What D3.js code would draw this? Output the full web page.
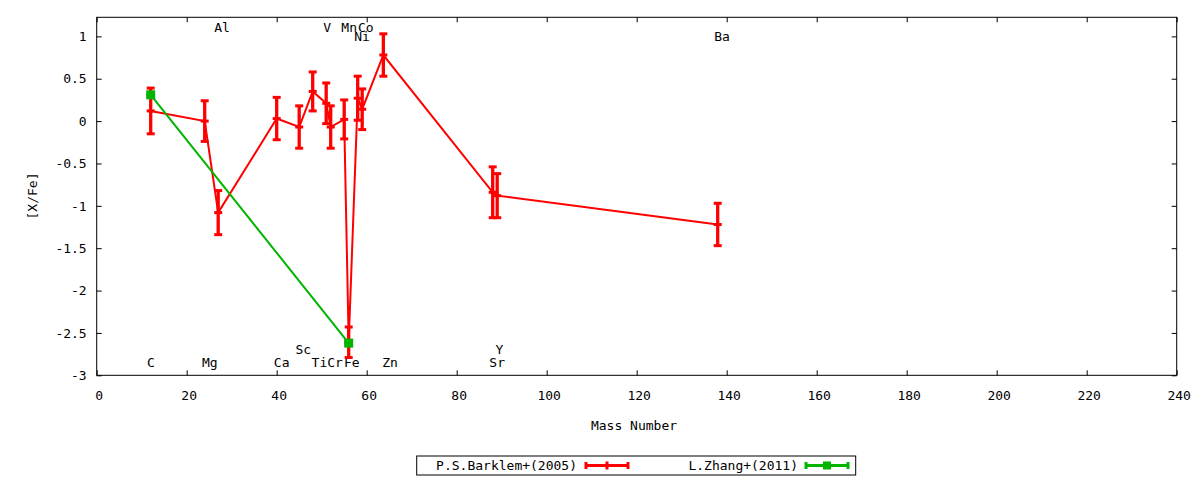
<!DOCTYPE html>
<html>
<head>
<meta charset="utf-8">
<script src="https://cdn.jsdelivr.net/npm/d3@7"></script>
<style>
  html, body { margin: 0; padding: 0; background: #fff; }
  svg { display: block; }
  text { font-family: "DejaVu Sans Mono", monospace; font-size: 13px; fill: #000; }
</style>
</head>
<body>
<svg id="chart" width="1200" height="480"></svg>
<script>
// ---- data ----
const barklemElements = ["C","Mg","Al","Ca","Sc","Ti","V","Cr","Mn","Fe","Ni","Co","Zn","Sr","Y","Ba"];
const barklemMass     = [12, 24, 27, 40, 45, 48, 51, 52, 55, 56, 58, 59, 63.7, 88, 89, 138];
const barklemValue    = [0.12, 0.00, -1.08, 0.03, -0.07, 0.35, 0.21, -0.07, 0.02, -2.61, 0.27, 0.14, 0.78, -0.84, -0.88, -1.22];
const barklemError    = [0.27, 0.24, 0.26, 0.25, 0.25, 0.23, 0.24, 0.25, 0.23, 0.18, 0.26, 0.24, 0.25, 0.30, 0.26, 0.25];

const zhangElements = ["C","Fe"];
const zhangMass     = [12, 56];
const zhangValue    = [0.31, -2.62];
const zhangError    = [0, 0];

const labelNames = ["C","Mg","Ca","Sc","Ti","Cr","Fe","Zn","Y","Sr","Al","V","Mn","Co","Ni","Ba"];
const labelMass  = [12.05, 25.15, 41.1, 45.9, 49.5, 52.95, 56.7, 65.2, 89.5, 89.0, 27.85, 51.2, 56.1, 59.8, 58.95, 138.95];
const labelLevel = [-2.85, -2.85, -2.85, -2.7, -2.85, -2.85, -2.85, -2.85, -2.7, -2.85, 1.1, 1.1, 1.1, 1.1, 1.0, 1.0];

const xTicks = [0,20,40,60,80,100,120,140,160,180,200,220,240];
const yTicks = [-3,-2.5,-2,-1.5,-1,-0.5,0,0.5,1];
const seriesNames = ["P.S.Barklem+(2005)", "L.Zhang+(2011)"];

// ---- layout ----
const svg = d3.select("#chart");
const pLeft = 96.7, pRight = 1176.7, pTop = 17.3, pBottom = 375.3;
const x = d3.scaleLinear().domain([0, 240]).range([pLeft, pRight]);
const y = d3.scaleLinear().domain([-3, 1.225]).range([pBottom, pTop]);
const RED = "#ff0000", GREEN = "#00b400";
const tickLen = 5;

// frame
svg.append("rect").attr("x", pLeft).attr("y", pTop).attr("width", pRight-pLeft).attr("height", pBottom-pTop)
  .attr("fill", "none").attr("stroke", "#000").attr("stroke-width", 1);

// axes using d3 axis (inward ticks)
const fmt = d => String(d);
const xAxisB = d3.axisBottom(x).tickValues(xTicks).tickSize(-tickLen).tickFormat(fmt).tickPadding(15);
const xAxisT = d3.axisTop(x).tickValues(xTicks).tickSize(-tickLen).tickFormat("");
const yAxisL = d3.axisLeft(y).tickValues(yTicks).tickSize(-tickLen).tickFormat(fmt).tickPadding(10);
const yAxisR = d3.axisRight(y).tickValues(yTicks).tickSize(-tickLen).tickFormat("");

function styleAxis(g) {
  g.select(".domain").remove();
  g.selectAll(".tick line").attr("stroke", "#000").attr("stroke-width", 1);
  g.selectAll(".tick text").style("font-family", "DejaVu Sans Mono, monospace").style("font-size", "13px").attr("fill", "#000");
}
svg.append("g").attr("transform", `translate(0,${pBottom})`).call(xAxisB).call(styleAxis)
  .selectAll(".tick text").attr("dx", 2);
svg.append("g").attr("transform", `translate(0,${pTop})`).call(xAxisT).call(styleAxis);
svg.append("g").attr("transform", `translate(${pLeft},0)`).call(yAxisL).call(styleAxis);
svg.append("g").attr("transform", `translate(${pRight},0)`).call(yAxisR).call(styleAxis);

// axis titles
svg.append("text").attr("x", 634).attr("y", 430).attr("text-anchor", "middle").text("Mass Number");
svg.append("text").attr("transform", "translate(37,196) rotate(-90)").attr("text-anchor", "middle").text("[X/Fe]");

// element labels
const labels = labelNames.map((n, i) => ({n, m: labelMass[i], v: labelLevel[i]}));
svg.append("g").selectAll("text").data(labels).join("text")
  .attr("x", d => x(d.m)).attr("y", d => y(d.v)).attr("dy", "0.35em")
  .attr("text-anchor", "middle").text(d => d.n);

// series
const barklem = barklemElements.map((e, i) => ({e, m: barklemMass[i], v: barklemValue[i], err: barklemError[i]}));
const zhang = zhangElements.map((e, i) => ({e, m: zhangMass[i], v: zhangValue[i], err: zhangError[i]}));
const line = d3.line().x(d => x(d.m)).y(d => y(d.v));
const capW = 4;

function drawSeries(data, color, marker) {
  const g = svg.append("g");
  g.append("path").datum(data).attr("d", line).attr("fill", "none").attr("stroke", color).attr("stroke-width", 2);
  const eb = g.selectAll("g.eb").data(data).join("g");
  eb.append("line").attr("x1", d => x(d.m)).attr("x2", d => x(d.m))
    .attr("y1", d => y(d.v - d.err)).attr("y2", d => y(d.v + d.err))
    .attr("stroke", color).attr("stroke-width", 3.3);
  [-1, 1].forEach(s => {
    eb.append("line").attr("x1", d => x(d.m) - capW).attr("x2", d => x(d.m) + capW)
      .attr("y1", d => y(d.v + s*d.err)).attr("y2", d => y(d.v + s*d.err))
      .attr("stroke", color).attr("stroke-width", 3);
  });
  if (marker === "plus") {
    eb.append("line").attr("x1", d => x(d.m) - capW).attr("x2", d => x(d.m) + capW)
      .attr("y1", d => y(d.v)).attr("y2", d => y(d.v)).attr("stroke", color).attr("stroke-width", 3);
  } else {
    eb.append("rect").attr("x", d => x(d.m) - 4.5).attr("y", d => y(d.v) - 4.5)
      .attr("width", 9).attr("height", 9).attr("fill", color);
  }
}
drawSeries(barklem, RED, "plus");
drawSeries(zhang, GREEN, "square");

// legend
const lg = svg.append("g");
lg.append("rect").attr("x", 416.7).attr("y", 456).attr("width", 439).attr("height", 19)
  .attr("fill", "#fff").attr("stroke", "#000").attr("stroke-width", 1);
const legendItems = [
  {name: seriesNames[0], color: RED, textRight: 577, x1: 586, x2: 628, marker: "plus"},
  {name: seriesNames[1], color: GREEN, textRight: 798, x1: 806, x2: 848, marker: "square"}
];
legendItems.forEach(it => {
  const cy = 465.5;
  lg.append("text").attr("x", it.textRight).attr("y", cy).attr("dy", "0.35em").attr("text-anchor", "end").text(it.name);
  lg.append("line").attr("x1", it.x1).attr("x2", it.x2).attr("y1", cy).attr("y2", cy).attr("stroke", it.color).attr("stroke-width", 3);
  [it.x1, it.x2].forEach(xx => lg.append("line").attr("x1", xx).attr("x2", xx).attr("y1", cy-3.5).attr("y2", cy+3.5)
    .attr("stroke", it.color).attr("stroke-width", 3));
  const mx = (it.x1 + it.x2) / 2;
  if (it.marker === "plus") {
    lg.append("line").attr("x1", mx).attr("x2", mx).attr("y1", cy-4).attr("y2", cy+4).attr("stroke", it.color).attr("stroke-width", 3);
  } else {
    lg.append("rect").attr("x", mx-4).attr("y", cy-4).attr("width", 8).attr("height", 8).attr("fill", it.color);
  }
});
</script>
</body>
</html>
